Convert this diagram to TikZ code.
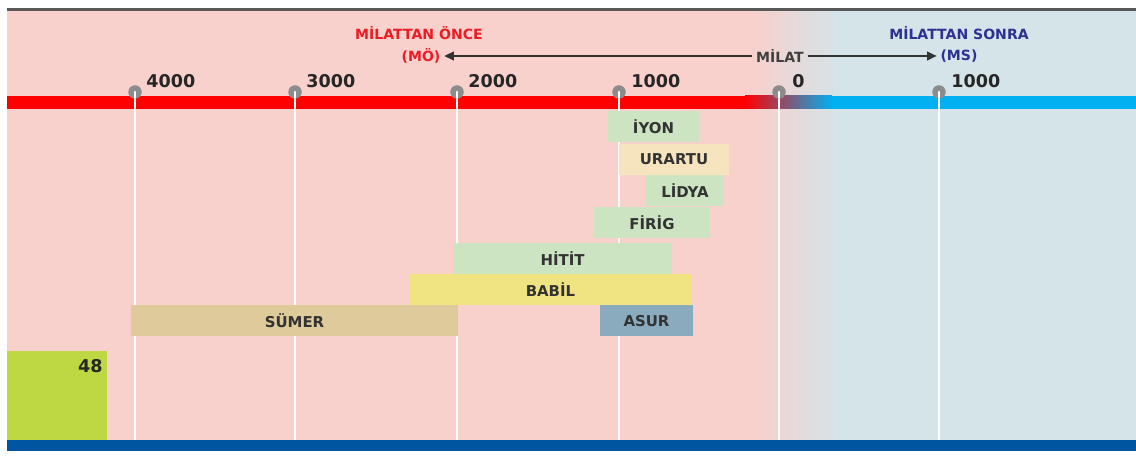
\documentclass[tikz,border=0pt]{standalone}
\usepackage{fontspec}
\setmainfont{DejaVu Sans}
\usetikzlibrary{arrows.meta}

\definecolor{arkapembe}{RGB}{248,208,204}
\definecolor{arkamavi}{RGB}{212,228,233}
\definecolor{cizgikirmizi}{RGB}{255,0,0}
\definecolor{cizgimavi}{RGB}{0,176,240}
\definecolor{altmavi}{RGB}{0,85,160}
\definecolor{yesil}{RGB}{204,228,194}
\definecolor{krem}{RGB}{245,228,190}
\definecolor{sari}{RGB}{240,228,130}
\definecolor{toprak}{RGB}{222,202,155}
\definecolor{grimavi}{RGB}{138,170,190}
\definecolor{limon}{RGB}{190,216,68}
\definecolor{baslikkirmizi}{RGB}{237,28,36}
\definecolor{baslikmavi}{RGB}{46,49,146}

\begin{document}
\begin{tikzpicture}[x=0.02cm, y=-0.02cm,
	donem/.style={inner sep=0pt, minimum height=0.62cm, font=\bfseries\fontsize{8.5}{10}\selectfont, text=black!80},
	yil/.style={anchor=base west, inner sep=0pt, font=\bfseries\fontsize{10}{12}\selectfont, text=black!85},
	baslik/.style={inner sep=2pt, font=\bfseries\fontsize{8}{9}\selectfont},
	isaret/.style={circle, fill=black!45, inner sep=0pt, minimum size=0.27cm,
		path picture={\draw[white, line width=1.6pt, line cap=round] (path picture bounding box.south) -- (path picture bounding box.center);}},
	dikey/.style={white, line width=1.2pt},
	ok/.style={black!80, line width=1pt, -{Triangle[length=5.5pt, width=5pt]}}]
	\useasboundingbox (0,0) rectangle (1136,472);

	% arka plan
	\fill[arkapembe] (7,10) rectangle (752,440);
	\shade[left color=arkapembe, right color=arkamavi] (752,10) rectangle (840,440);
	\fill[arkamavi] (840,10) rectangle (1136,440);
	\fill[black!65] (7,8) rectangle (1136,11);
	\fill[altmavi] (7,440) rectangle (1136,451);

	% zaman cizgisi
	\fill[cizgikirmizi] (7,96) rectangle (745,109);
	\shade[left color=cizgikirmizi, right color=cizgimavi] (745,96) rectangle (832,109);
	\fill[cizgimavi] (832,96) rectangle (1136,109);

	\node[isaret] (i4000) at (135,92) {};
	\node[isaret] (i3000) at (295,92) {};
	\node[isaret] (i2000) at (457,92) {};
	\node[isaret] (i1000) at (619,92) {};
	\node[isaret] (i0) at (779,92) {};
	\node[isaret] (i1000ms) at (939,92) {};

	\coordinate (a4000) at (135,440);
	\coordinate (a3000) at (295,440);
	\coordinate (a2000) at (457,440);
	\coordinate (a1000) at (619,440);
	\coordinate (a0) at (779,440);
	\coordinate (a1000ms) at (939,440);

	\draw[dikey] (i4000) -- (a4000);
	\draw[dikey] (i3000) -- (a3000);
	\draw[dikey] (i2000) -- (a2000);
	\draw[dikey] (i1000) -- (a1000);
	\draw[dikey] (i0) -- (a0);
	\draw[dikey] (i1000ms) -- (a1000ms);

	\node[yil] (y4000) at (146,88) {4000};
	\node[yil] (y3000) at (306,88) {3000};
	\node[yil] (y2000) at (468,88) {2000};
	\node[yil] (y1000) at (631,88) {1000};
	\node[yil] (y0) at (792,88) {0};
	\node[yil] (y1000ms) at (951,88) {1000};

	% basliklar
	\node[baslik, text=baslikkirmizi] (mo) at (419,33) {MİLATTAN ÖNCE};
	\node[baslik, text=baslikkirmizi] (mokisa) at (421,56) {(MÖ)};
	\node[baslik, text=black!75] (milat) at (780,56) {MİLAT};
	\node[baslik, text=baslikmavi] (ms) at (959,33) {MİLATTAN SONRA};
	\node[baslik, text=baslikmavi] (mskisa) at (959,56) {(MS)};

	\draw[ok] (milat) -- (mokisa);
	\draw[ok] (milat) -- (mskisa);

	% uygarliklar
	\node[donem, fill=yesil, minimum width=1.82cm] (iyon) at (653.5,127) {İYON};
	\node[donem, fill=krem, minimum width=2.2cm] (urartu) at (674,159.5) {URARTU};
	\node[donem, fill=yesil, minimum width=1.56cm] (lidya) at (685,191) {LİDYA};
	\node[donem, fill=yesil, minimum width=2.32cm] (firig) at (652,223) {FİRİG};
	\node[donem, fill=yesil, minimum width=4.38cm] (hitit) at (562.5,258.5) {HİTİT};
	\node[donem, fill=sari, minimum width=5.62cm] (babil) at (550.5,290) {BABİL};
	\node[donem, fill=toprak, minimum width=6.54cm] (sumer) at (294.5,321) {SÜMER};
	\node[donem, fill=grimavi, minimum width=1.86cm] (asur) at (646.5,321) {ASUR};

	% sayfa numarasi
	\fill[limon] (7,351) rectangle (107,440);
	\node[anchor=north east, inner sep=0pt, font=\bfseries\fontsize{10}{12}\selectfont, text=black!85] (sayfa) at (103,359) {48};

\end{tikzpicture}
\end{document}
